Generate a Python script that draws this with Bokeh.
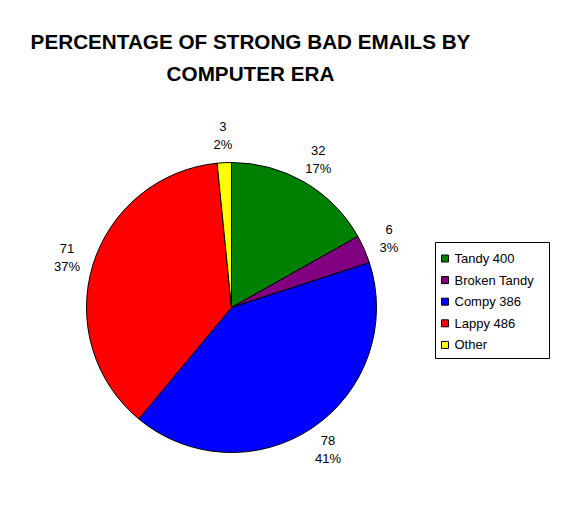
import numpy as np
from bokeh.plotting import figure
from bokeh.models import Range1d, ColumnDataSource
from bokeh.core.properties import value
from bokeh.embed import file_html
from bokeh.resources import INLINE

# ---- data ----
categories = ["Tandy 400", "Broken Tandy", "Compy 386", "Lappy 486", "Other"]
counts = [32, 6, 78, 71, 3]
colors = ["#008000", "#800080", "#0000FF", "#FF0000", "#FFFF00"]
title_lines = ["PERCENTAGE OF STRONG BAD EMAILS BY", "COMPUTER ERA"]

# ---- layout (page pixel coordinates) ----
W, H = 575, 525


def Y(py):
    return H - py


FONT = "Liberation Sans"

p = figure(width=559, height=509, x_range=Range1d(0, 559), y_range=Range1d(16, 525),
           output_backend="svg", toolbar_location=None, min_border=0)
p.axis.visible = False
p.grid.visible = False
p.outline_line_color = None
p.background_fill_color = "white"
p.border_fill_color = "white"

cx, cy, r = 231, Y(307), 145
total = float(sum(counts))
frac = np.array(counts) / total
cum = np.concatenate([[0.0], np.cumsum(frac)])
start = np.pi / 2 - cum[:-1] * 2 * np.pi
end = np.pi / 2 - cum[1:] * 2 * np.pi
mid = (start + end) / 2
lr = 172
labels = [f"{c}\n{int(round(f * 100))}%" for c, f in zip(counts, frac)]

src = ColumnDataSource(dict(start=start, end=end, color=colors,
                            lx=cx + lr * np.cos(mid), ly=cy + lr * np.sin(mid),
                            label=labels))

p.wedge(x=cx, y=cy, radius=r, start_angle="start", end_angle="end", direction="clock",
        fill_color="color", line_color="black", line_width=1, source=src)

p.text(x="lx", y="ly", text="label", text_align="center", text_baseline="middle",
       text_font=value(FONT), text_font_size="13px", text_line_height=1.2,
       text_color="black", source=src)

# title
p.text(x=[250, 250], y=[Y(41), Y(73)], text=title_lines, text_align="center",
       text_baseline="middle", text_font=value(FONT), text_font_size="20.7px",
       text_font_style="bold", text_color="black")

# legend
p.quad(left=[435], right=[549], top=[Y(242)], bottom=[Y(358)],
       fill_color="white", line_color="black", line_width=1)
rows = [Y(258 + i * 21.6) for i in range(len(categories))]
p.scatter(x=[444.5] * len(categories), y=rows, marker="square", size=7,
          fill_color=colors, line_color="black", line_width=1)
p.text(x=[454] * len(categories), y=rows, text=categories, text_align="left",
       text_baseline="middle", text_font=value(FONT), text_font_size="13px",
       text_color="black")

open("out.html", "w").write(file_html(p, INLINE))
